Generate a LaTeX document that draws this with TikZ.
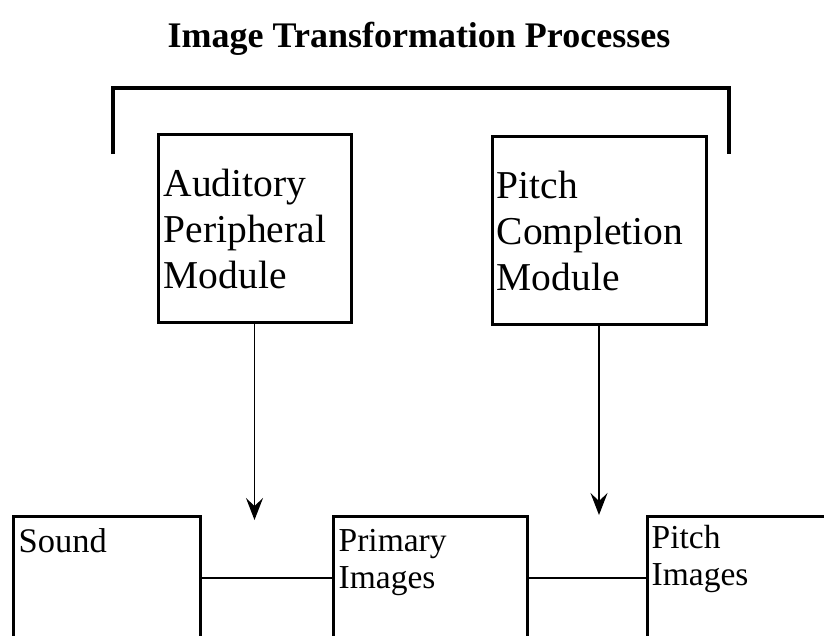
\documentclass[tikz,border=0pt]{standalone}
\usepackage{fontspec}
\setmainfont{Liberation Serif}
\usetikzlibrary{arrows.meta}

\begin{document}
\begin{tikzpicture}[x=1pt,y=-1pt,module/.style={shape=rectangle,draw=black,line width=3pt,minimum height=188pt,inner sep=0pt},store/.style={shape=rectangle,draw=black,line width=3pt,minimum height=124pt,inner sep=0pt},bigtxt/.style={anchor=north west,inner sep=0pt,align=left,font=\fontsize{39.5}{46}\selectfont},smalltxt/.style={anchor=north west,inner sep=0pt,align=left,font=\fontsize{33.5}{37}\selectfont},feed/.style={line width=1.5pt,-{Stealth[length=22pt,width=17pt,inset=8pt]}},link/.style={line width=1.5pt}]
\def\ylink{578};

\useasboundingbox (0,0) rectangle (824,635);
\clip (0,0) rectangle (824,635);

\node[font=\bfseries\fontsize{36}{42}\selectfont] (title) at (419,39) {Image Transformation Processes};

% bracket over the two modules
\draw[line width=4.5pt] (113,154) -- (113,88) -- (729,88) -- (729,154);

\node[module,minimum width=193pt] (APM) at (254.5,228) {};
\node[bigtxt] (APMtext) at ([xshift=7pt,yshift=-36pt]APM.north west) {Auditory\\Peripheral\\Module};
\node[module,minimum width=214pt] (PCM) at (599,230) {};
\node[bigtxt] (PCMtext) at ([xshift=6pt,yshift=-36pt]PCM.north west) {Pitch\\Completion\\Module};

\node[store,minimum width=187pt] (S) at (106.5,\ylink) {};
\node[smalltxt,font=\fontsize{34.5}{37}\selectfont] (Stext) at ([xshift=7pt,yshift=-14pt]S.north west) {Sound};
\node[store,minimum width=194pt] (PI) at (430,\ylink) {};
\node[smalltxt] (PItext) at ([xshift=7pt,yshift=-14.5pt]PI.north west) {Primary\\Images};
\node[store,minimum width=213pt] (PtI) at (753.5,\ylink) {};
\node[smalltxt] (PtItext) at ([xshift=6pt,yshift=-10.5pt]PtI.north west) {Pitch\\Images};

\draw[link] (S.east) -- (PI.west);
\draw[link] (PI.east) -- (PtI.west);

\coordinate (APMend) at (254.5,520);
\draw[feed] (APM.south) -- (APMend);
\coordinate (PCMend) at (599,515);
\draw[feed] (PCM.south) -- (PCMend);
\end{tikzpicture}
\end{document}
